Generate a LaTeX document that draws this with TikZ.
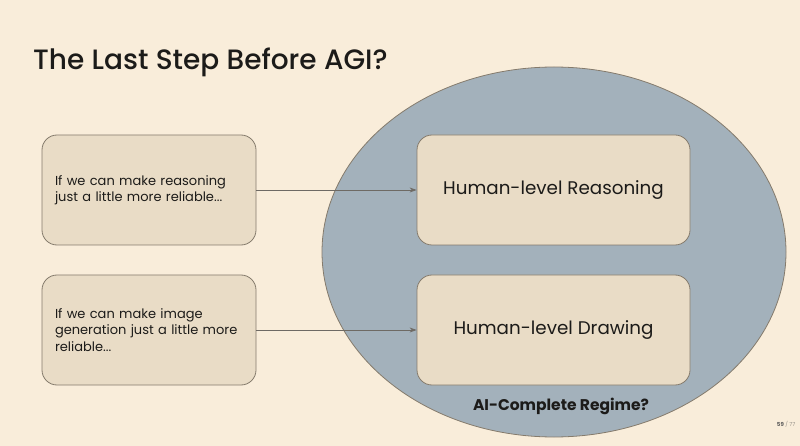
\documentclass[tikz,border=0pt]{standalone}
\usepackage{fontspec}
\setmainfont{Poppins}
\newfontfamily\mediumfont{Poppins Medium}
\usetikzlibrary{arrows.meta,shapes.geometric}
\definecolor{slidebg}{HTML}{F9EDDA}
\definecolor{boxfill}{HTML}{E9DCC6}
\definecolor{boxline}{HTML}{857B6C}
\definecolor{regimefill}{HTML}{A3B1BB}
\definecolor{inktext}{HTML}{1C1B19}
\definecolor{arrowgray}{HTML}{6E6A64}
\definecolor{pagegray}{HTML}{9A958C}
\begin{document}
\begin{tikzpicture}[x=1pt,y=-1pt,
  ifbox/.style={draw=boxline,fill=boxfill,line width=0.8pt,rounded corners=15pt,
    minimum width=214pt,minimum height=110pt,inner xsep=13pt,
    text width=188pt,align=left,font=\fontsize{13}{16.5}\selectfont,text=inktext},
  levelbox/.style={draw=boxline,fill=boxfill,line width=0.8pt,rounded corners=15pt,
    minimum width=273pt,minimum height=110pt,font=\fontsize{18.3}{22}\selectfont,text=inktext},
  flow/.style={draw=arrowgray,line width=0.8pt,-{Stealth[length=7pt,width=5pt]}}]
  % slide background
  \fill [slidebg] (0,0) rectangle (800,446);
  \useasboundingbox (0,0) rectangle (800,446);
  \node [anchor=base west,inner sep=0pt,font=\mediumfont\fontsize{28}{32}\selectfont,text=inktext] (title) at (33,70)
    {The Last Step Before AGI?};
  % the AI-complete regime
  \node [ellipse,draw=boxline,fill=regimefill,line width=0.8pt,inner sep=0pt,
    minimum width=464pt,minimum height=370pt] (regime) at (554,252) {};
  \node [levelbox] (reason-level) at (553.5,190) {Human-level Reasoning};
  \node [levelbox] (draw-level)   at (553.5,330) {Human-level Drawing};
  \node [font=\fontsize{15.5}{18}\selectfont\bfseries,text=inktext] (regime-label) at (561,406)
    {AI-Complete Regime?};
  % the two "if" boxes
  \node [ifbox] (reason-if) at (149,190) {If we can make reasoning\\just a little more reliable...};
  \node [ifbox] (draw-if)   at (149,330) {If we can make image\\generation just a little more\\reliable...};
  \draw [flow] (reason-if) -- (reason-level);
  \draw [flow] (draw-if) -- (draw-level);
  % page number
  \node [anchor=east,font=\fontsize{5.5}{6}\selectfont,text=pagegray] (page) at (799,424)
    {\textcolor{inktext!70}{\bfseries 59} / 77};
\end{tikzpicture}
\end{document}
